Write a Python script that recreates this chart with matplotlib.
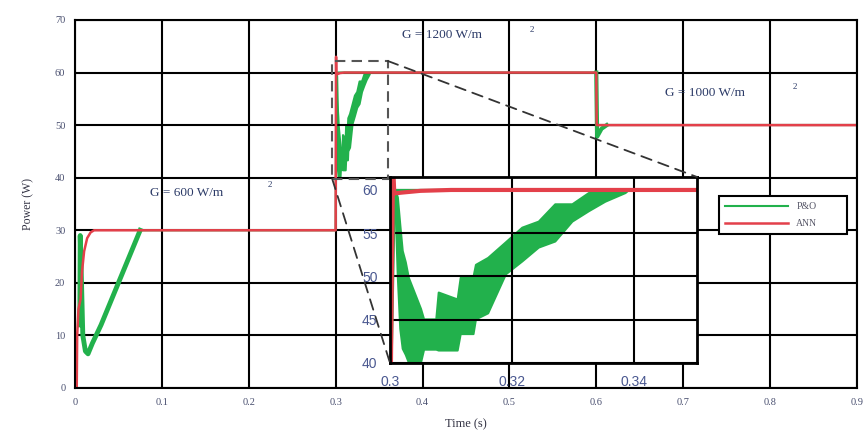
import matplotlib
matplotlib.use("Agg")
from matplotlib import pyplot as plt
from matplotlib.patches import Rectangle, ConnectionPatch

# ANN response (t, P)
ann_t = [0.0, 0.002, 0.0025, 0.004, 0.0065, 0.008, 0.0105, 0.014, 0.018, 0.022,
         0.3, 0.3005, 0.3007, 0.302, 0.305, 0.31, 0.6, 0.6005, 0.9]
ann_p = [0, 0, 10, 15, 17, 22, 26, 28.5, 29.6, 30,
         30, 63, 59.6, 59.7, 59.9, 60, 60, 50, 50]

# P&O start-up transient
po_t = [0.0055, 0.006, 0.0075, 0.009, 0.012, 0.015, 0.02, 0.03, 0.04, 0.05,
        0.06, 0.07, 0.075]
po_p = [12, 29, 20, 10, 7, 6.5, 8.5, 12, 16, 20, 24, 28, 30]

# P&O steady parts
flat_t = [0.075, 0.3, 0.3008, 0.339, 0.6]
flat_p = [30, 30, 60, 60, 60]

# P&O ripple band after the 1200 W/m2 step (t, lower, upper)
band_t = [0.3008, 0.3012, 0.3016, 0.302, 0.3025, 0.303, 0.305, 0.3055, 0.3075,
          0.3079, 0.311, 0.3115, 0.3136, 0.314, 0.316, 0.3189, 0.3216, 0.3243,
          0.327, 0.3298, 0.3325, 0.3352, 0.3385, 0.339]
band_lo = [58.5, 50, 44, 41.7, 41, 40.1, 40.1, 41.6, 41.6, 41.5, 41.5, 43.4,
           43.4, 45.1, 45.8, 50.3, 51.8, 53.4, 54.1, 56.4, 57.6, 58.7, 59.7, 60]
band_hi = [60, 59.2, 56, 53, 51.7, 49.9, 46.3, 45.1, 45.1, 48.2, 47.4, 49.9,
           50, 51.4, 52.2, 54, 55.7, 56.4, 58.4, 58.4, 59.7, 60, 60, 60]

# P&O at the 1000 W/m2 step
po2_t = [0.6, 0.601, 0.606, 0.612, 0.9]
po2_p = [60, 47.8, 49.3, 50, 50]

x_ticks = [0, 0.1, 0.2, 0.3, 0.4, 0.5, 0.6, 0.7, 0.8, 0.9]
y_ticks = [0, 10, 20, 30, 40, 50, 60, 70]
ins_x_ticks = [0.3, 0.32, 0.34]
ins_y_ticks = [40, 45, 50, 55, 60]

green = "#22b14c"
red = "#e3404a"
txt = "#2b3a67"
serif = "Liberation Serif"


def draw_po(a):
    a.plot(po_t, po_p, color=green, lw=3.5)
    a.plot(flat_t, flat_p, color=green, lw=1.5, label="P&O")
    a.fill_between(band_t, band_lo, band_hi, color=green, lw=1.5, edgecolor=green)
    a.plot(po2_t[:4], po2_p[:4], color=green, lw=3)
    a.plot(po2_t[3:], po2_p[3:], color=green, lw=1.5)


fig = plt.figure(figsize=(8.64, 4.34), dpi=100)
ax = fig.add_axes([0.0868, 0.106, 0.905, 0.848])

draw_po(ax)
ax.plot(ann_t, ann_p, color=red, lw=1.8, label="ANN")

ax.set_xlim(0, 0.9)
ax.set_ylim(0, 70)
ax.set_xticks(x_ticks)
ax.set_xticklabels([f"{v:g}" for v in x_ticks])
ax.set_yticks(y_ticks)
ax.grid(True, color="black", lw=1.5)
ax.tick_params(length=0, pad=7, labelsize=7.5, labelcolor="#4a5070")
for lab in ax.get_xticklabels() + ax.get_yticklabels():
    lab.set_fontfamily(serif)
for s in ax.spines.values():
    s.set_linewidth(1.5)
ax.set_xlabel("Time (s)", fontfamily=serif, fontsize=9, color="#333344", labelpad=8)
ax.set_ylabel("Power (W)", fontfamily=serif, fontsize=8.5, color="#333344", labelpad=15)

for x, y, s, sx, sy in [(0.0863, 37.1, "G = 600 W/m", 0.222, 38.6),
                        (0.376, 67.1, "G = 1200 W/m", 0.5236, 68.1),
                        (0.679, 56.1, "G = 1000 W/m", 0.826, 57.3)]:
    ax.text(x, y, s, fontfamily=serif, fontsize=9.5, color=txt, va="center")
    ax.text(sx, sy, "2", fontfamily=serif, fontsize=6.5, color=txt, va="center")

leg = ax.legend(loc="center", bbox_to_anchor=(0.818, 0.416, 0.176, 0.108),
                mode="expand", fancybox=False, framealpha=1, edgecolor="black",
                handlelength=6.5, prop={"family": serif, "size": 7},
                borderpad=0.6, labelspacing=0.8, labelcolor="#555566")
leg.get_frame().set_linewidth(1.5)

# zoom rectangle and connectors
ax.add_patch(Rectangle((0.296, 39.8), 0.064, 22.4, fill=False, ls=(0, (5, 3)),
                       lw=1.5, edgecolor="#555555", zorder=4))

axin = fig.add_axes([0.4514, 0.1636, 0.3553, 0.4286])
draw_po(axin)
axin.plot(ann_t, ann_p, color=red, lw=3)
axin.set_xlim(0.3, 0.3503)
axin.set_ylim(40, 61.5)
axin.set_xticks(ins_x_ticks)
axin.set_xticklabels([f"{v:g}" for v in ins_x_ticks])
axin.set_yticks(ins_y_ticks)
axin.grid(True, color="black", lw=1.5)
axin.tick_params(length=0, pad=9, labelsize=10, labelcolor="#4a5890")
for lab in axin.get_xticklabels() + axin.get_yticklabels():
    lab.set_fontfamily("Liberation Sans")
for s in axin.spines.values():
    s.set_linewidth(2)

for xa, ya, xb, yb in [(0.360, 62.2, 1, 1), (0.296, 39.8, 0, 0)]:
    con = ConnectionPatch(xyA=(xa, ya), coordsA=ax.transData,
                          xyB=(xb, yb), coordsB=axin.transAxes,
                          ls=(0, (6, 4)), lw=1.3, color="#333333")
    fig.add_artist(con)

fig.savefig("out.png", dpi=100)
